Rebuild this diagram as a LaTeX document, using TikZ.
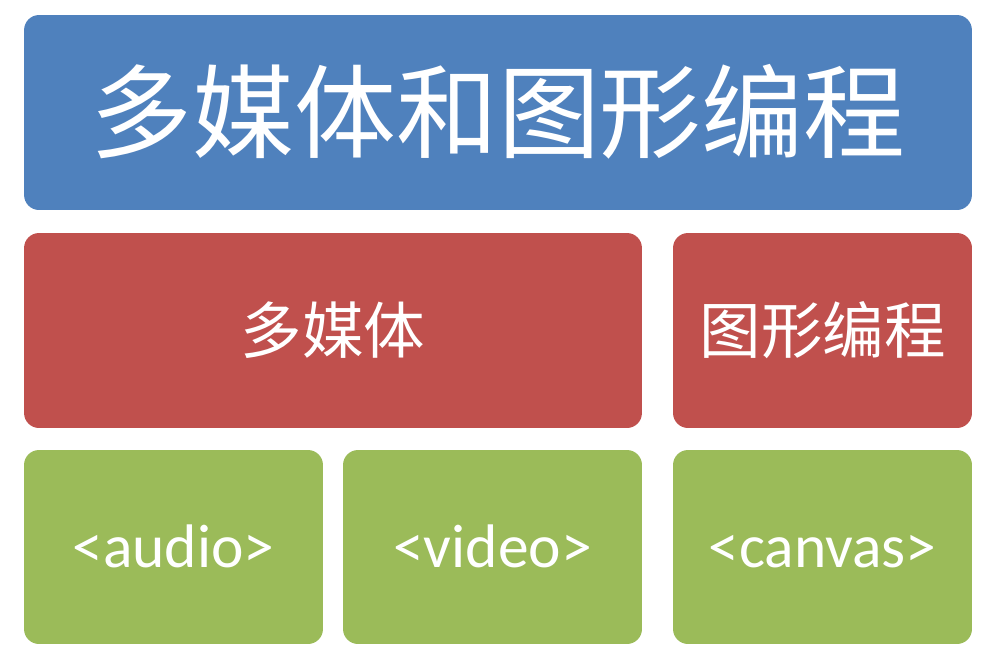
\documentclass[tikz,border=0pt]{standalone}
\usepackage{fontspec}
\setmainfont{Carlito}
\newfontfamily\cjk{Noto Sans CJK SC}
\usetikzlibrary{positioning}
\definecolor{boxblue}{HTML}{4F81BD}
\definecolor{boxred}{HTML}{C0504D}
\definecolor{boxgreen}{HTML}{9BBB59}
\tikzset{
  blk/.style={draw=none, rounded corners=0.3cm, text=white, align=center, inner sep=0pt, minimum height=3.9cm},
  blkb/.style={blk, fill=boxblue, font=\cjk\fontsize{58}{60}\selectfont},
  blkr/.style={blk, fill=boxred, font=\cjk\fontsize{35}{38}\selectfont},
  blkg/.style={blk, fill=boxgreen, font=\fontsize{35}{38}\selectfont, text height=1.0cm, text depth=0.2cm},
}

\begin{document}
\begin{tikzpicture}[x=0.02cm, y=-0.02cm]
  \useasboundingbox[fill=white] (0,0) rectangle (1000,660);
  % top row
  \node[blkb, minimum width=18.96cm] (title) at (498,112.5) {\raisebox{0.2cm}{多媒体和图形编程}};
  % middle row
  \node[blkr, minimum width=12.36cm] (media) at (333,330.5) {多媒体};
  \node[blkr, minimum width=5.98cm] (graphics) at (822.5,330.5) {图形编程};
  % bottom row
  \node[blkg, minimum width=5.98cm, minimum height=3.88cm] (audio) at (173.5,547) {<audio>};
  \node[blkg, minimum width=5.98cm, minimum height=3.88cm] (video) at (492.5,547) {<video>};
  \node[blkg, minimum width=5.98cm, minimum height=3.88cm] (canvas) at (822.5,547) {<canvas>};
\end{tikzpicture}
\end{document}
